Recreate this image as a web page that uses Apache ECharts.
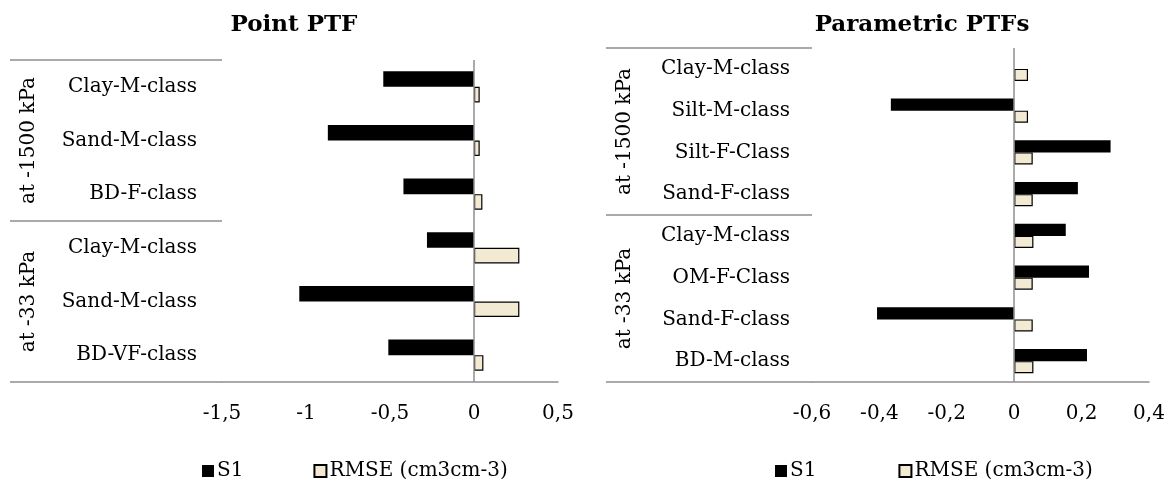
<!DOCTYPE html>
<html>
<head>
<meta charset="utf-8">
<script src="https://cdn.jsdelivr.net/npm/echarts@6/dist/echarts.min.js"></script>
<style>
html,body{margin:0;padding:0;background:#fff;}
#c{width:1173px;height:484px;}
</style>
</head>
<body>
<div id="c"></div>
<script>
// ---- data ----
const groupLabels = ['at -1500 kPa', 'at -33 kPa'];
const pointCats = ['Clay-M-class', 'Sand-M-class', 'BD-F-class', 'Clay-M-class', 'Sand-M-class', 'BD-VF-class'];
const pointS1 = [-0.54, -0.87, -0.42, -0.28, -1.04, -0.51];
const pointRMSE = [0.034, 0.034, 0.05, 0.27, 0.27, 0.056];
const paramCats = ['Clay-M-class', 'Silt-M-class', 'Silt-F-Class', 'Sand-F-class', 'Clay-M-class', 'OM-F-Class', 'Sand-F-class', 'BD-M-class'];
const paramS1 = [0, -0.366, 0.286, 0.189, 0.153, 0.222, -0.407, 0.216];
const paramRMSE = [0.041, 0.041, 0.055, 0.055, 0.057, 0.055, 0.055, 0.057];
const seriesNames = ['S1', 'RMSE (cm3cm-3)'];
const titles = ['Point PTF', 'Parametric PTFs'];

const FONT = 'DejaVu Serif';
const FS = 20;
const GRAY = '#8f8f8f';
const CREAM = '#F2EAD3';

const fmt = v => (Math.round(v * 10) / 10).toString().replace('.', ',');

function xAxisCfg(gi, min, max, interval) {
  return {
    type: 'value', gridIndex: gi, min: min, max: max, interval: interval,
    axisLine: { show: true, onZero: false, lineStyle: { color: GRAY, width: 1.5 } },
    axisTick: { show: false },
    splitLine: { show: false },
    axisLabel: { formatter: fmt, margin: 22, fontSize: FS, fontFamily: FONT, color: '#000' }
  };
}
function catAxisCfg(gi, cats, margin) {
  return {
    type: 'category', gridIndex: gi, data: cats, inverse: true, position: 'left',
    axisLine: { show: false, onZero: false },
    axisTick: { show: false },
    axisLabel: { margin: margin, fontSize: FS, fontFamily: FONT, color: '#000' }
  };
}
function groupAxisCfg(gi, tickLen, margin) {
  return {
    type: 'category', gridIndex: gi, data: groupLabels, inverse: true, position: 'left',
    axisLine: { show: false, onZero: false },
    axisTick: { show: true, length: tickLen, interval: 0, lineStyle: { color: GRAY, width: 1.5 } },
    axisLabel: { rotate: 90, margin: margin, fontSize: FS, fontFamily: FONT, color: '#000', interval: 0 }
  };
}
function barSeries(name, gi, data, isS1) {
  const s = {
    name: name, type: 'bar', xAxisIndex: gi, yAxisIndex: gi * 2, data: data,
    barGap: '0%', barCategoryGap: '42%',
    itemStyle: isS1 ? { color: '#000' } : { color: CREAM, borderColor: '#000', borderWidth: 1.2 },
    emphasis: { disabled: true }
  };
  if (isS1) {
    s.markLine = {
      silent: true, symbol: ['none', 'none'], label: { show: false },
      lineStyle: { color: GRAY, width: 1.5, type: 'solid' },
      data: [{ xAxis: 0 }]
    };
  }
  return s;
}
function legendCfg(left, gap) {
  return {
    data: seriesNames, left: left, top: 456, itemWidth: 12, itemHeight: 12, itemGap: gap,
    icon: 'rect', textStyle: { fontSize: FS, fontFamily: FONT, color: '#000', padding: [0, 0, 0, -2] }
  };
}

const chart = echarts.init(document.getElementById('c'), null, { renderer: 'canvas' });
chart.setOption({
  animation: false,
  backgroundColor: '#fff',
  title: [
    { text: titles[0], left: 289, top: 9, textAlign: 'center', textStyle: { fontSize: 23, fontWeight: 'bold', fontFamily: FONT, color: '#000' } },
    { text: titles[1], left: 917, top: 9, textAlign: 'center', textStyle: { fontSize: 23, fontWeight: 'bold', fontFamily: FONT, color: '#000' } }
  ],
  legend: [legendCfg(197, 70), legendCfg(770, 82)],
  grid: [
    { left: 222, right: 615, top: 60, bottom: 102 },
    { left: 812, right: 24, top: 48, bottom: 102 }
  ],
  xAxis: [xAxisCfg(0, -1.5, 0.5, 0.5), xAxisCfg(1, -0.6, 0.4, 0.2)],
  yAxis: [
    catAxisCfg(0, pointCats, 25), groupAxisCfg(0, 212, 183),
    catAxisCfg(1, paramCats, 22), groupAxisCfg(1, 206, 177)
  ],
  series: [
    barSeries(seriesNames[0], 0, pointS1, true),
    barSeries(seriesNames[1], 0, pointRMSE, false),
    barSeries(seriesNames[0], 1, paramS1, true),
    barSeries(seriesNames[1], 1, paramRMSE, false)
  ]
});
</script>
</body>
</html>
